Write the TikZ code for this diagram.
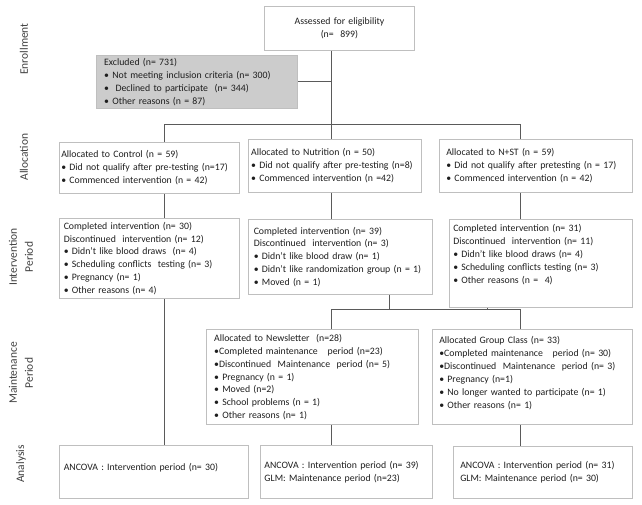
\documentclass[tikz,border=0pt]{standalone}
\usepackage{fontspec}
\setmainfont{Carlito}
\definecolor{bordergray}{RGB}{191,191,191}
\definecolor{linegray}{RGB}{90,90,90}
\definecolor{exclgray}{RGB}{204,204,204}
\definecolor{txt}{RGB}{30,30,30}
\definecolor{labgray}{RGB}{64,64,64}
\newcommand{\fbx}[8][]{%
  \pgfmathsetmacro\bxw{#5-#3-2*#7}%
  \pgfmathsetmacro\bxW{#5-#3}%
  \pgfmathsetmacro\bxH{#6-#4}%
  \node[box,#1,anchor=north west,minimum width=\bxW pt,minimum height=\bxH pt,
        inner xsep=#7pt,text width=\bxw pt] (#2) at (#3,#4) {#8};}
\begin{document}
\begin{tikzpicture}[x=1pt,y=-1pt,
  box/.style={draw=bordergray,line width=0.9pt,rectangle,inner ysep=0pt,align=left,
    text=txt,font=\fontsize{9.8}{12.9}\selectfont},
  conn/.style={draw=linegray,line width=0.8pt},
  sect/.style={rotate=90,align=center,text=labgray,font=\fontsize{11.5}{16}\selectfont}]
\useasboundingbox (0,0) rectangle (642,504);
% section labels
\node[sect] (lEnr) at (24,49) {Enrollment};
\node[sect] (lAll) at (24,157) {Allocation};
\node[sect] (lInt) at (21,257) {Intervention\\Period};
\node[sect] (lMai) at (21,373) {Maintenance\\Period};
\node[sect] (lAna) at (21,464) {Analysis};
% boxes
\fbx[align=center]{assess}{264}{6}{414}{50}{4}{Assessed for eligibility\\(n=\ \ 899)}
\fbx[fill=exclgray]{excl}{95.7}{55}{297.3}{107.7}{8}{Excluded (n= 731)\\
• Not meeting inclusion criteria (n= 300)\\
•\ \ Declined to participate\ \ (n= 344)\\
• Other reasons (n = 87)}
\fbx{allocC}{59.3}{141.7}{239.3}{193}{1.5}{Allocated to Control (n = 59)\\
• Did not qualify after pre-testing (n=17)\\
• Commenced intervention (n = 42)}
\fbx{allocN}{247.7}{139.3}{420.7}{191.7}{3}{Allocated to Nutrition (n = 50)\\
• Did not qualify after pre-testing (n=8)\\
• Commenced intervention (n =42)}
\fbx{allocS}{439.3}{139.3}{632}{191.7}{6.5}{Allocated to N+ST (n = 59)\\
• Did not qualify after pretesting (n = 17)\\
• Commenced intervention (n = 42)}
\fbx{intC}{59.3}{218}{239.3}{298}{4}{Completed intervention (n= 30)\\
Discontinued\ \ intervention (n= 12)\\
• Didn’t like blood draws\ \ (n= 4)\\
• Scheduling conflicts\ \ testing (n= 3)\\
• Pregnancy (n= 1)\\
• Other reasons (n= 4)}
\fbx{intN}{248.3}{219}{431.7}{294}{5}{Completed intervention (n= 39)\\
Discontinued\ \ intervention (n= 3)\\
• Didn’t like blood draw (n= 1)\\
• Didn’t like randomization group (n = 1)\\
• Moved (n = 1)}
\fbx{intS}{449.3}{219}{632}{307}{3.5}{Completed intervention (n= 31)\\
Discontinued\ \ intervention (n= 11)\\
• Didn’t like blood draws (n= 4)\\
• Scheduling conflicts testing (n= 3)\\
• Other reasons (n =\ \ 4)\\[6pt]\mbox{}}
\fbx{news}{205.7}{329}{418.3}{424.3}{8}{Allocated to Newsletter\ \ (n=28)\\
•Completed maintenance\ \ \ period (n=23)\\
•Discontinued\ \ Maintenance\ \ period (n= 5)\\
• Pregnancy (n = 1)\\
• Moved (n=2)\\
• School problems (n = 1)\\
• Other reasons (n= 1)}
\fbx{grp}{432.3}{328.7}{632}{424.3}{6.5}{Allocated Group Class (n= 33)\\
•Completed maintenance\ \ \ period (n= 30)\\
•Discontinued\ \ Maintenance\ \ period (n= 3)\\
• Pregnancy (n=1)\\
• No longer wanted to participate (n= 1)\\
• Other reasons (n= 1)\\[-4pt]\mbox{}}
\fbx{anC}{59.3}{445.3}{247.7}{497.7}{4}{ANCOVA : Intervention period (n= 30)\\[-2pt]\mbox{}}
\fbx{anN}{260}{445.3}{431.7}{497.7}{4}{ANCOVA : Intervention period (n= 39)\\
GLM: Maintenance period (n=23)}
\fbx{anS}{453.3}{446.3}{632}{498}{6.5}{ANCOVA : Intervention period (n= 31)\\
GLM: Maintenance period (n= 30)}
% connectors
\coordinate (j1) at (331,124);
\coordinate (hl) at (164,124);
\coordinate (hr) at (520.7,124);
\draw[conn] (assess.south -| j1) -- (j1);
\draw[conn] (excl.east) -- (excl.east -| j1);
\draw[conn] (hl) -- (hr);
\draw[conn] (hl) -- (allocC.north -| hl);
\draw[conn] (j1) -- (allocN.north -| j1);
\draw[conn] (hr) -- (allocS.north -| hr);
\draw[conn] (allocC.south -| hl) -- (intC.north -| hl);
\draw[conn] (allocN.south -| j1) -- (intN.north -| j1);
\draw[conn] (allocS.south -| hr) -- (intS.north -| hr);
\draw[conn] (intC.south -| hl) -- (anC.north -| hl);
\coordinate (m1) at (389.3,309.3);
\coordinate (m2) at (487.3,309.3);
\coordinate (ml) at (331.7,309.3);
\coordinate (mr) at (520.7,309.3);
\draw[conn] (intN.south -| m1) -- (m1);
\draw[conn] (intS.south -| m2) -- (m2);
\draw[conn] (ml) -- (mr);
\draw[conn] (ml) -- (news.north -| ml);
\draw[conn] (mr) -- (grp.north -| mr);
\draw[conn] (news.south -| ml) -- (anN.north -| ml);
\draw[conn] (grp.south -| mr) -- (anS.north -| mr);
\end{tikzpicture}
\end{document}
